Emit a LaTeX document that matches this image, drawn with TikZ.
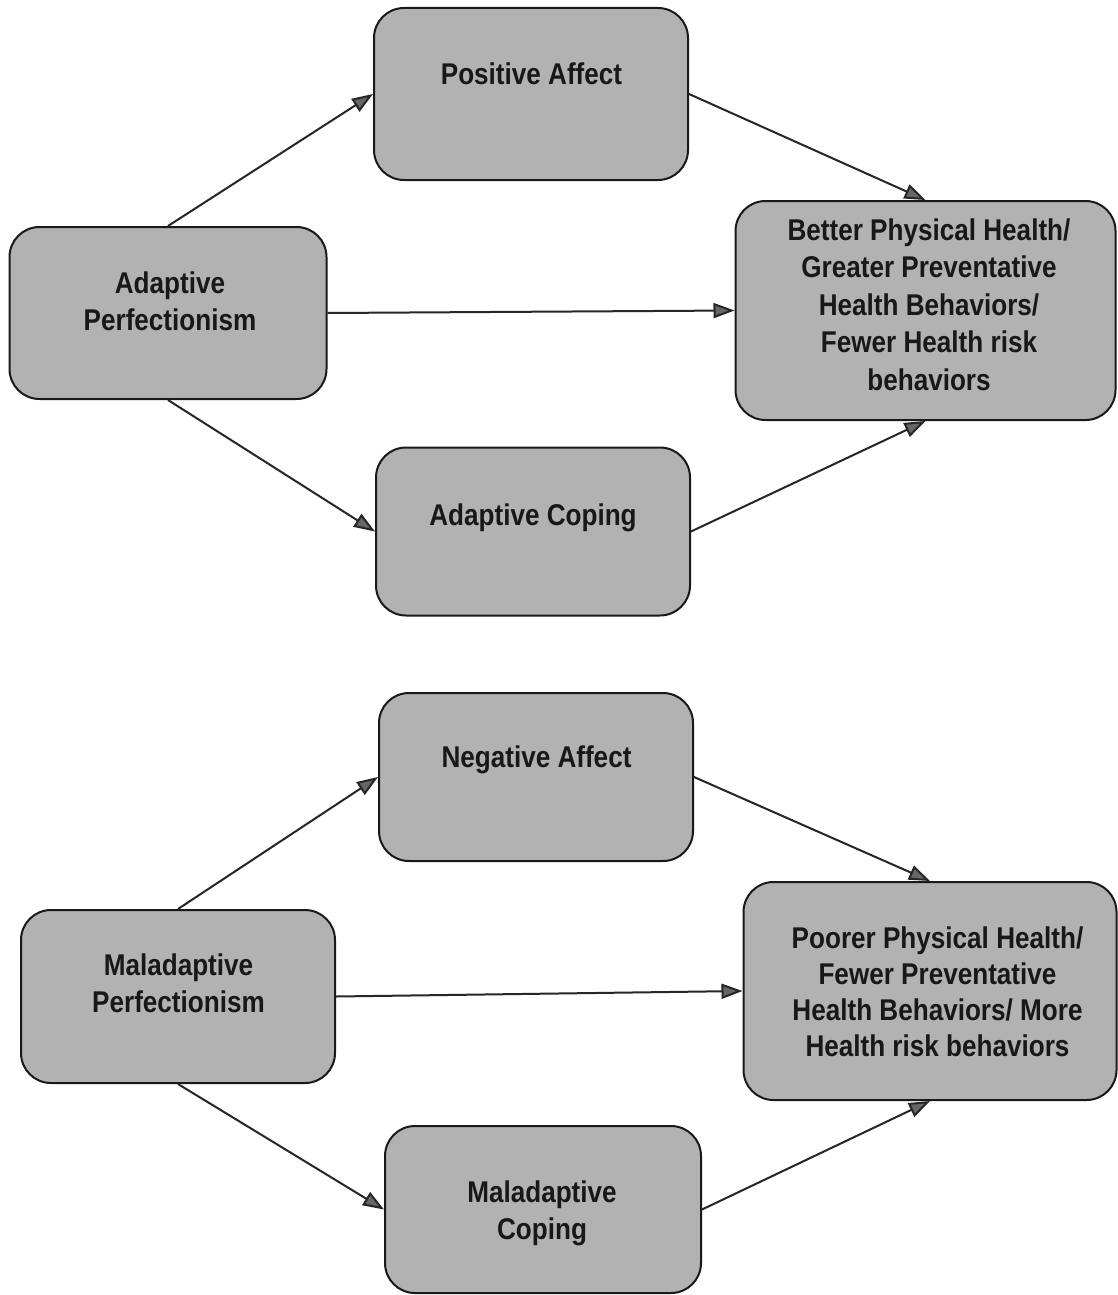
\documentclass[tikz,border=0pt]{standalone}
\usepackage{fontspec}
\newfontfamily\labfont{Liberation Sans}[FakeStretch=0.87]
\usetikzlibrary{arrows.meta}
\definecolor{boxgray}{RGB}{178,178,178}
\definecolor{textc}{RGB}{24,24,24}
\begin{document}
\begin{tikzpicture}[x=1pt,y=-1pt,
  box/.style={draw=black!90, line width=2pt, rounded corners=30pt, fill=boxgray, inner sep=0pt},
  txt/.style={anchor=base, inner sep=0pt, text=textc, font=\labfont\bfseries\fontsize{30}{37}\selectfont},
  arr/.style={line width=2pt, draw=black!85, -{Triangle[length=21pt,width=15pt,fill=black!60]}}]
\useasboundingbox[fill=white] (0,0) rectangle (1118,1295);

% ---------- top diagram ----------
\node[box, minimum width=314pt, minimum height=172pt] (pa) at (531,94) {};
\node[txt] (pat) at (531.5,85) {Positive Affect};

\node[box, minimum width=317pt, minimum height=172pt] (ap) at (168,313) {};
\node[txt] (apt) at (170,293) {\begin{tabular}[t]{@{}c@{}}Adaptive\\Perfectionism\end{tabular}};

\node[box, minimum width=380pt, minimum height=219pt] (bh) at (925.5,310.5) {};
\node[txt] (bht) at (929,240) {\fontsize{30}{37.5}\selectfont\begin{tabular}[t]{@{}c@{}}Better Physical Health/\\Greater Preventative\\Health Behaviors/\\Fewer Health risk\\behaviors\end{tabular}};

\node[box, minimum width=314pt, minimum height=168pt] (ac) at (533,531.5) {};
\node[txt] (act) at (533,525) {Adaptive Coping};

\draw[arr] (ap.north) -- (pa.west);
\draw[arr] (pa.east) -- (bh.north);
\draw[arr] (ap.east) -- (bh.west);
\draw[arr] (ap.south) -- (ac.west);
\draw[arr] (ac.east) -- (bh.south);

% ---------- bottom diagram ----------
\node[box, minimum width=314pt, minimum height=168pt] (na) at (536,777) {};
\node[txt] (nat) at (536.5,767) {Negative Affect};

\node[box, minimum width=314pt, minimum height=173pt] (mp) at (178,996.5) {};
\node[txt] (mpt) at (178.5,975) {\begin{tabular}[t]{@{}c@{}}Maladaptive\\Perfectionism\end{tabular}};

\node[box, minimum width=373pt, minimum height=218pt] (ph) at (930,991) {};
\node[txt] (pht) at (937.5,948) {\fontsize{30}{36}\selectfont\begin{tabular}[t]{@{}c@{}}Poorer Physical Health/\\Fewer Preventative\\Health Behaviors/ More\\Health risk behaviors\end{tabular}};

\node[box, minimum width=316pt, minimum height=167pt] (mc) at (543,1209.5) {};
\node[txt] (mct) at (542,1202) {\begin{tabular}[t]{@{}c@{}}Maladaptive\\Coping\end{tabular}};

\draw[arr] (mp.north) -- (na.west);
\draw[arr] (na.east) -- (ph.north);
\draw[arr] (mp.east) -- (ph.west);
\draw[arr] (mp.south) -- (mc.west);
\draw[arr] (mc.east) -- (ph.south);
\end{tikzpicture}
\end{document}
